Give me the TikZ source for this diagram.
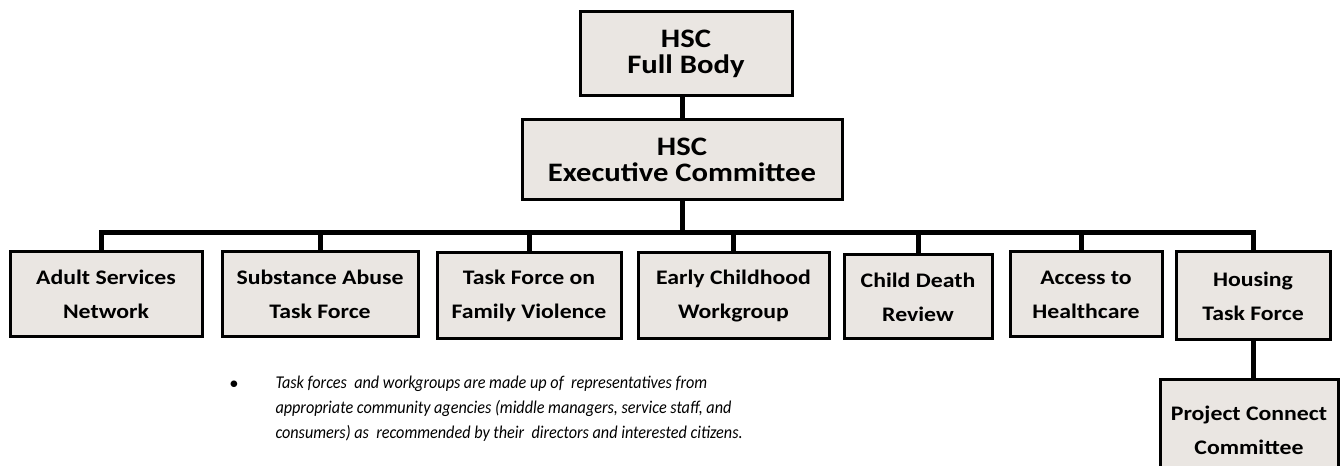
\documentclass[tikz,border=0pt]{standalone}
\usepackage{fontspec}
\setmainfont{Carlito}
\newfontfamily\unitfont{Carlito}[FakeStretch=1.15]
\newfontfamily\notefont{Carlito}[FakeStretch=0.9]
\definecolor{boxfill}{RGB}{234,230,226}
\tikzset{every picture/.style={line width=0.75pt}}
\tikzset{
  unit/.style={draw, line width=2.25pt, fill=boxfill, align=center, inner sep=0pt, font=\unitfont\bfseries\fontsize{15.5}{25.5}\selectfont},
  topunit/.style={unit, font=\unitfont\bfseries\fontsize{20}{20}\selectfont},
  link/.style={line width=3.75pt}
}

\begin{document}
\begin{tikzpicture}[x=0.75pt,y=0.75pt,yscale=-1,xscale=1]
	\useasboundingbox (0,0) rectangle (1340,466);

	% Top Nodes
	\node[topunit, minimum width=159pt, minimum height=63pt] (full) at (686,54) {HSC\\Full Body};
	\node[topunit, minimum width=240pt, minimum height=60pt] (exec) at (682,160) {HSC\\Executive Committee};

	% Task Force Nodes
	\node[unit, minimum width=144pt, minimum height=63.75pt] (adult) at (106,294.5) {Adult Services\\Network};
	\node[unit, minimum width=147pt, minimum height=63.75pt] (subst) at (320,294.5) {Substance Abuse\\Task Force};
	\node[unit, minimum width=138pt, minimum height=64.5pt] (famvio) at (529,296) {Task Force on\\Family Violence};
	\node[unit, minimum width=143.25pt, minimum height=64.5pt] (early) at (733.5,296) {Early Childhood\\Workgroup};
	\node[unit, minimum width=111pt, minimum height=63pt] (death) at (918,297) {Child Death\\Review};
	\node[unit, minimum width=114pt, minimum height=63.75pt] (access) at (1086,294.5) {Access to\\Healthcare};
	\node[unit, minimum width=115.5pt, minimum height=66pt] (housing) at (1253,296) {Housing\\Task Force};
	\node[unit, minimum width=133.5pt, minimum height=75pt] (connect) at (1249,430) {Project Connect\\Committee};

	% Connectors
	\draw[link] (exec.north) -- (exec.north |- full.south);
	\path (exec.south) ++(0,31) coordinate (bus);
	\draw[link] (exec.south) -- (bus);
	\draw[link] (adult.north) ++(-5,0) coordinate (adulttop) |- (bus);
	\draw[link] (bus) -| (housing.north);
	\foreach \n in {subst,famvio,early,death}
		\draw[link] (bus -| \n.north) -- (\n.north);
	\draw[link] (access.north) ++(-5,0) coordinate (accesstop) -- (bus -| accesstop);
	\draw[link] (housing.south) -- (housing.south |- connect.north);

	% Note
	\node[font=\fontsize{14}{14}\selectfont] (dot) at (234,385) {\textbullet};
	\node[anchor=north west, align=left, inner sep=0pt, font=\notefont\itshape\fontsize{13.5}{18.75}\selectfont] (note) at (275,376)
		{Task forces \ and workgroups are made up of \ representatives from\\
		 appropriate community agencies (middle managers, service staff, and\\
		 consumers) as \ recommended by their \ directors and interested citizens.};
\end{tikzpicture}
\end{document}
